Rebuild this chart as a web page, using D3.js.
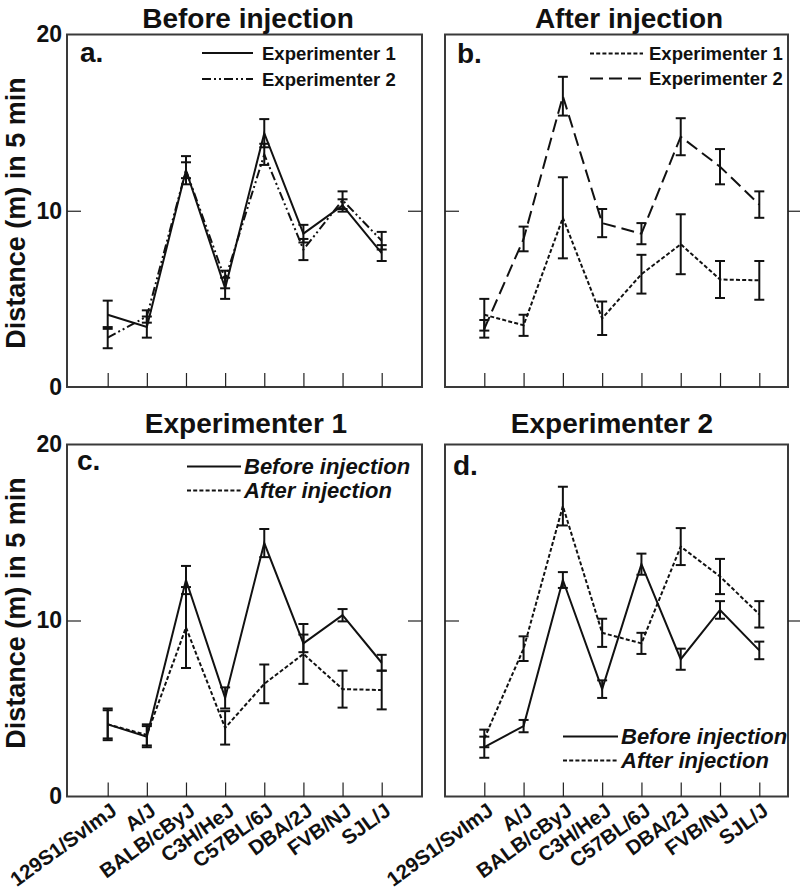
<!DOCTYPE html>
<html>
<head>
<meta charset="utf-8">
<script src="https://cdn.jsdelivr.net/npm/d3@7"></script>
<style>
  html, body { margin: 0; padding: 0; background: #fff; }
  svg { display: block; }
  text { font-family: "Liberation Sans", Arial, Helvetica, sans-serif; font-weight: bold; fill: #111; }
</style>
</head>
<body>
<svg id="chart" width="800" height="889"></svg>
<script>
// ---------------- DATA ----------------
const categories = ["129S1/SvImJ", "A/J", "BALB/cByJ", "C3H/HeJ", "C57BL/6J", "DBA/2J", "FVB/NJ", "SJL/J"];
const yTicks = [0, 10, 20];
const yTickLabels = ["0", "10", "20"];

// Experimenter 1, before injection
const exp1Before    = [4.1, 3.4, 12.3, 5.6, 14.4, 8.7, 10.3, 7.6];
const exp1BeforeErr = [0.8, 0.6, 0.8, 0.6, 0.8, 0.5, 0.35, 0.45];
// Experimenter 2, before injection
const exp2Before    = [2.8, 4.0, 12.3, 6.1, 13.2, 7.8, 10.6, 8.3];
const exp2BeforeErr = [0.6, 0.35, 0.45, 0.5, 0.6, 0.6, 0.5, 0.5];
// Experimenter 1, after injection
const exp1After    = [4.1, 3.5, 9.6, 3.9, 6.4, 8.1, 6.1, 6.05];
const exp1AfterErr = [0.9, 0.6, 2.3, 0.95, 1.1, 1.7, 1.05, 1.1];
// Experimenter 2, after injection
const exp2After    = [3.3, 8.4, 16.5, 9.3, 8.7, 14.2, 12.5, 10.35];
const exp2AfterErr = [0.5, 0.7, 1.1, 0.8, 0.6, 1.05, 1.0, 0.75];

const panelTitles = ["Before injection", "After injection", "Experimenter 1", "Experimenter 2"];
const panelLetters = ["a.", "b.", "c.", "d."];
const yAxisTitle = "Distance (m) in 5 min";

// ---------------- STYLES ----------------
const DASH = {
  solid: null,
  dashDotDot: "9,3,2,3,2,3",
  shortDash: "4,2.2",
  longDash: "13,6"
};

// ---------------- LAYOUT ----------------
const panels = [
  { letter: 0, title: 0, x0: 67, x1: 422, y0: 34.5, y1: 387, xr: [107.7, 381.7], titleX: 248, titleY: 28,
    letterX: 80, letterY: 62, yLabels: true, xLabels: false, rightTickOut: false, yTitleY: 213,
    series: [
      { v: exp1Before, e: exp1BeforeErr, dash: DASH.solid, name: "Experimenter 1", italic: false },
      { v: exp2Before, e: exp2BeforeErr, dash: DASH.dashDotDot, name: "Experimenter 2", italic: false }
    ],
    legend: { lx0: 202, lx1: 253, tx: 262, rows: [53, 79], fs: 18.5 } },
  { letter: 1, title: 1, x0: 445, x1: 788, y0: 34.5, y1: 387, xr: [484.3, 759.3], titleX: 629, titleY: 28,
    letterX: 457, letterY: 63, yLabels: false, xLabels: false, rightTickOut: true,
    series: [
      { v: exp1After, e: exp1AfterErr, dash: DASH.shortDash, name: "Experimenter 1", italic: false },
      { v: exp2After, e: exp2AfterErr, dash: DASH.longDash, name: "Experimenter 2", italic: false }
    ],
    legend: { lx0: 590, lx1: 643, tx: 649, rows: [53.5, 78.5], fs: 18.5 } },
  { letter: 2, title: 2, x0: 67, x1: 422, y0: 444.5, y1: 796.5, xr: [107.7, 381.7], titleX: 246, titleY: 433,
    letterX: 77, letterY: 470, yLabels: true, xLabels: true, rightTickOut: false, yTitleY: 613,
    series: [
      { v: exp1Before, e: exp1BeforeErr, dash: DASH.solid, name: "Before injection", italic: true },
      { v: exp1After, e: exp1AfterErr, dash: DASH.shortDash, name: "After injection", italic: true }
    ],
    legend: { lx0: 187, lx1: 241, tx: 244, rows: [466.5, 490.5], fs: 22 } },
  { letter: 3, title: 3, x0: 445, x1: 788, y0: 444.5, y1: 796.5, xr: [484.3, 759.3], titleX: 612, titleY: 433,
    letterX: 453, letterY: 475, yLabels: false, xLabels: true, rightTickOut: true,
    series: [
      { v: exp2Before, e: exp2BeforeErr, dash: DASH.solid, name: "Before injection", italic: true },
      { v: exp2After, e: exp2AfterErr, dash: DASH.shortDash, name: "After injection", italic: true }
    ],
    legend: { lx0: 563, lx1: 618, tx: 621, rows: [736.5, 760.5], fs: 22 } }
];

const svg = d3.select("#chart");
const INK = "#111";
const FRAME = "#3a3a3a";

panels.forEach(p => {
  const g = svg.append("g");
  const x = d3.scalePoint().domain(categories).range(p.xr).padding(0);
  const y = d3.scaleLinear().domain([0, 20]).range([p.y1, p.y0]);

  // frame
  g.append("rect")
    .attr("x", p.x0).attr("y", p.y0)
    .attr("width", p.x1 - p.x0).attr("height", p.y1 - p.y0)
    .attr("fill", "none").attr("stroke", FRAME).attr("stroke-width", 2);

  // bottom inward x ticks
  const xAxis = d3.axisBottom(x).tickSize(-14).tickFormat(p.xLabels ? null : "");
  const xg = g.append("g").attr("transform", `translate(0,${p.y1})`).call(xAxis);
  xg.select(".domain").remove();
  xg.selectAll(".tick line").attr("stroke", "#222").attr("stroke-width", 1.2);
  if (p.xLabels) {
    xg.selectAll(".tick text")
      .attr("fill", INK)
      .style("font-size", "20.5px")
      .style("font-weight", "bold")
      .attr("text-anchor", "end")
      .attr("dy", null)
      .attr("y", 0)
      .attr("transform", "translate(10,17) rotate(-36)");
  } else {
    xg.selectAll(".tick text").remove();
  }

  // left y ticks (inward); only the middle tick shows a line
  const yAxisL = d3.axisLeft(y).tickValues(yTicks).tickSize(-14)
    .tickFormat((d, i) => yTickLabels[i]);
  const yl = g.append("g").attr("transform", `translate(${p.x0},0)`).call(yAxisL);
  yl.select(".domain").remove();
  yl.selectAll(".tick line")
    .attr("stroke", "#222").attr("stroke-width", 1.2)
    .attr("display", d => (d === 0 || d === 20) ? "none" : null);
  if (p.yLabels) {
    yl.selectAll(".tick text")
      .attr("x", -5).attr("fill", INK)
      .style("font-size", "23px").style("font-weight", "bold");
  } else {
    yl.selectAll(".tick text").remove();
  }

  // right y tick at 10
  const yAxisR = d3.axisRight(y).tickValues([10]).tickSize(p.rightTickOut ? 13 : -14).tickFormat("");
  const yr = g.append("g").attr("transform", `translate(${p.x1},0)`).call(yAxisR);
  yr.select(".domain").remove();
  yr.selectAll(".tick line").attr("stroke", "#222").attr("stroke-width", 1.2);

  // error bars
  const capW = 5;
  p.series.forEach(s => {
    const eb = g.append("g");
    categories.forEach((c, i) => {
      const cx = x(c);
      const yTop = y(s.v[i] + s.e[i]);
      const yBot = y(s.v[i] - s.e[i]);
      eb.append("line").attr("x1", cx).attr("x2", cx).attr("y1", yTop).attr("y2", yBot)
        .attr("stroke", INK).attr("stroke-width", 2);
      eb.append("line").attr("x1", cx - capW).attr("x2", cx + capW).attr("y1", yTop).attr("y2", yTop)
        .attr("stroke", INK).attr("stroke-width", 2);
      eb.append("line").attr("x1", cx - capW).attr("x2", cx + capW).attr("y1", yBot).attr("y2", yBot)
        .attr("stroke", INK).attr("stroke-width", 2);
    });
  });

  // series lines
  const line = d3.line().x((d, i) => x(categories[i])).y(d => y(d));
  p.series.forEach(s => {
    g.append("path").datum(s.v)
      .attr("d", line)
      .attr("fill", "none").attr("stroke", INK).attr("stroke-width", 2)
      .attr("stroke-linejoin", "miter")
      .attr("stroke-dasharray", s.dash);
  });

  // legend
  p.series.forEach((s, k) => {
    const ly = p.legend.rows[k];
    g.append("line").attr("x1", p.legend.lx0).attr("x2", p.legend.lx1)
      .attr("y1", ly).attr("y2", ly)
      .attr("stroke", INK).attr("stroke-width", 2.2)
      .attr("stroke-dasharray", s.dash);
    g.append("text").attr("x", p.legend.tx).attr("y", ly)
      .attr("dy", "0.36em")
      .style("font-size", p.legend.fs + "px")
      .style("font-style", s.italic ? "italic" : "normal")
      .text(s.name);
  });

  // panel letter
  g.append("text").attr("x", p.letterX).attr("y", p.letterY)
    .style("font-size", "28px").attr("fill", "#333")
    .text(panelLetters[p.letter]);

  // title
  g.append("text").attr("x", p.titleX).attr("y", p.titleY)
    .attr("text-anchor", "middle")
    .style("font-size", "28px")
    .text(panelTitles[p.title]);

  // y-axis title
  if (p.yLabels) {
    svg.append("text")
      .attr("transform", `translate(25,${p.yTitleY}) rotate(-90)`)
      .attr("text-anchor", "middle")
      .style("font-size", "27px")
      .text(yAxisTitle);
  }
});
</script>
</body>
</html>
